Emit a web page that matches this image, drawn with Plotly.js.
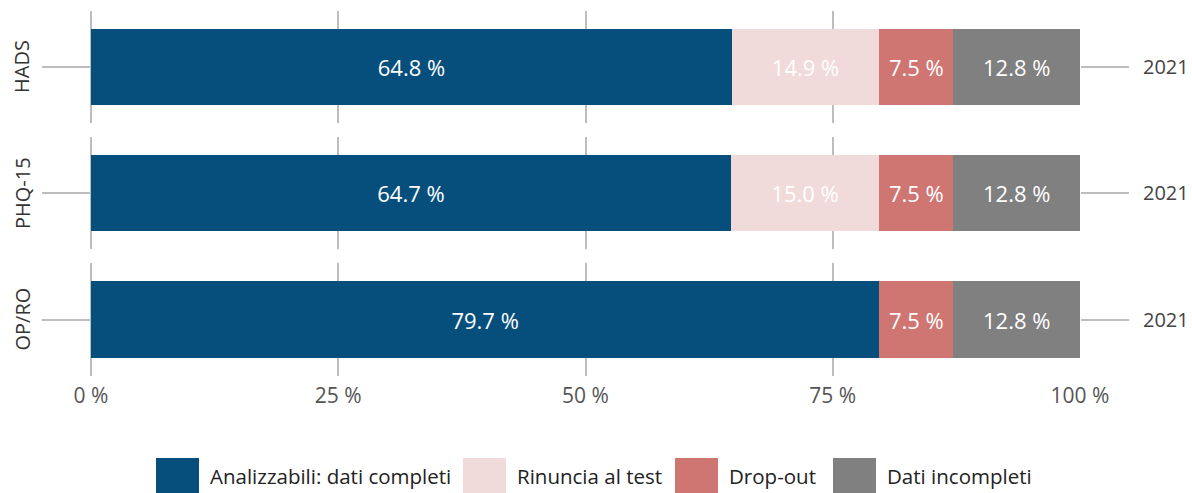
<!DOCTYPE html>
<html>
<head>
<meta charset="utf-8">
<script src="https://cdn.plot.ly/plotly-3.0.1.min.js"></script>
<style>html,body{margin:0;padding:0;background:#fff;}#chart{width:1192px;height:493px;}</style>
</head>
<body>
<div id="chart"></div>
<script>
// ---- data ----
const panels = ['HADS', 'PHQ-15', 'OP/RO'];
const years = ['2021', '2021', '2021'];
const seriesNames = ['Analizzabili: dati completi', 'Rinuncia al test', 'Drop-out', 'Dati incompleti'];
const analizzabili = [64.8, 64.7, 79.7];
const rinuncia = [14.9, 15.0, null];
const dropout = [7.5, 7.5, 7.5];
const incompleti = [12.8, 12.8, 12.8];
const xTicks = [0, 25, 50, 75, 100];
const xTickLabels = ['0 %', '25 %', '50 %', '75 %', '100 %'];

// ---- styling ----
const colors = ['#064f7c', '#f1dada', '#cf7572', '#808080'];
const FONT = '"Open Sans", "Noto Sans", sans-serif';
const W = 1192, H = 493;
const gridCol = '#bdbdbd';
const panelPx = [[11, 123], [137, 249], [263, 376]];
const seriesVals = [analizzabili, rinuncia, dropout, incompleti];

const traces = [];
panels.forEach((p, i) => {
  const yref = i === 0 ? 'y' : 'y' + (i + 1);
  seriesVals.forEach((vals, s) => {
    const v = vals[i];
    traces.push({
      type: 'bar', orientation: 'h',
      x: [v], y: [years[i]],
      yaxis: yref, xaxis: 'x',
      name: seriesNames[s], showlegend: false,
      marker: {color: colors[s], line: {width: 0}},
      text: v === null ? [''] : [v.toFixed(1) + ' %'],
      textposition: 'inside', insidetextanchor: 'middle', textangle: 0,
      constraintext: 'none',
      textfont: {family: FONT, size: 22, color: '#ffffff'},
      hoverinfo: 'x+name'
    });
  });
});

const layout = {
  width: W, height: H,
  margin: {l: 0, r: 0, t: 0, b: 0, pad: 0},
  paper_bgcolor: '#fff', plot_bgcolor: '#fff',
  barmode: 'stack', bargap: 0.325,
  font: {family: FONT, color: '#444'},
  xaxis: {
    domain: [91 / W, 1080 / W], range: [0, 100], anchor: 'y3',
    tickvals: xTicks, ticktext: xTickLabels,
    showgrid: true, gridcolor: gridCol, gridwidth: 2,
    zeroline: true, zerolinecolor: gridCol, zerolinewidth: 2.5,
    showline: false, ticks: '', ticklabelstandoff: 5,
    tickfont: {family: FONT, size: 21, color: '#555'},
    fixedrange: true
  },
  annotations: [],
  shapes: []
};

panels.forEach((p, i) => {
  const key = i === 0 ? 'yaxis' : 'yaxis' + (i + 1);
  const top = panelPx[i][0], bot = panelPx[i][1];
  layout[key] = {
    domain: [1 - bot / H, 1 - top / H], anchor: 'x', side: 'right',
    type: 'category', showgrid: false, zeroline: false, showline: false,
    ticks: 'outside', ticklen: 48, tickwidth: 2, tickcolor: gridCol, mirror: 'ticks',
    ticklabelstandoff: 10,
    tickfont: {family: FONT, size: 20, color: '#444'}, fixedrange: true
  };
  layout.annotations.push({
    xref: 'paper', yref: 'paper', x: 22 / W, y: 1 - (top + bot) / 2 / H,
    text: p, textangle: -90, showarrow: false, xanchor: 'center', yanchor: 'middle',
    font: {family: FONT, size: 20, color: '#333'}
  });
});

// manual legend (large square keys)
const keyX = [156, 463, 675, 833];
const keySize = 43, keyTop = 458;
seriesNames.forEach((n, s) => {
  layout.shapes.push({
    type: 'rect', xref: 'paper', yref: 'paper', layer: 'above',
    x0: keyX[s] / W, x1: (keyX[s] + keySize) / W,
    y0: 1 - (keyTop + keySize) / H, y1: 1 - keyTop / H,
    fillcolor: colors[s], line: {width: 0}
  });
  layout.annotations.push({
    xref: 'paper', yref: 'paper', x: (keyX[s] + keySize + 9) / W, y: 1 - 476 / H,
    text: n, showarrow: false, xanchor: 'left', yanchor: 'middle',
    font: {family: FONT, size: 20.5, color: '#222'}
  });
});

Plotly.newPlot('chart', traces, layout, {displayModeBar: false, staticPlot: true});
</script>
</body>
</html>
